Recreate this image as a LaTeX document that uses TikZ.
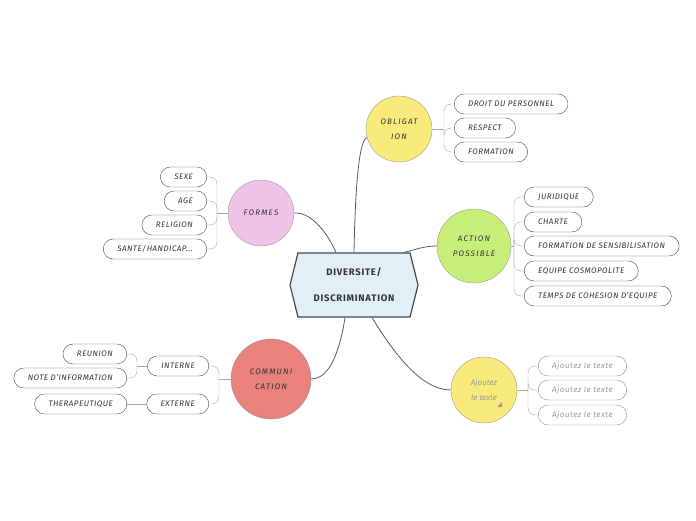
\documentclass[tikz,border=0pt]{standalone}
\usepackage{fontspec}
\setmainfont{Fira Sans}
\usetikzlibrary{positioning, shapes.symbols, calc}

\definecolor{hexfill}{HTML}{E3EFF6}
\definecolor{hexline}{HTML}{3F4B50}
\definecolor{yellowc}{HTML}{F8EB7B}
\definecolor{greenc}{HTML}{C8EE7A}
\definecolor{pinkc}{HTML}{EFC3E6}
\definecolor{salmonc}{HTML}{E9827A}
\definecolor{inkc}{HTML}{333333}

\begin{document}
\begin{tikzpicture}[x=1pt,y=1pt,
    every node/.style={text=inkc}]
  \tikzstyle{topic}=[circle,draw=gray!80,fill=yellowc,minimum size=66pt,inner sep=0pt,
      align=center,font=\fontsize{8}{15}\selectfont\itshape\addfontfeature{LetterSpace=15}]
  \tikzstyle{leaf}=[draw=hexline,fill=white,rounded corners=10pt,minimum height=20pt,
      inner xsep=14pt,inner ysep=0pt,font=\fontsize{8}{9}\selectfont\itshape\addfontfeature{LetterSpace=6}]
  \tikzstyle{hint}=[leaf,draw=gray!90,text=gray!80]
  \tikzstyle{mainlink}=[draw=hexline!90,thick]
  \tikzstyle{sublink}=[draw=gray!70,rounded corners=7pt]

  \useasboundingbox (0,0) rectangle (696,520);

  % centre
  \node[signal,signal to=west and east,signal pointer angle=152,draw=hexline,very thick,
      fill=hexfill,minimum width=128pt,minimum height=64pt,inner sep=0pt,align=center,
      font=\fontsize{9.5}{26}\selectfont\bfseries\addfontfeature{LetterSpace=8}] (div) at (354,235) {DIVERSITE/\\DISCRIMINATION};

  % main topics
  \node[topic]                          (obl)    at (399,391) {OBLIGAT\\ION};
  \node[topic,fill=greenc,minimum size=74pt] (act) at (474,274) {ACTION\\POSSIBLE};
  \node[topic,text=gray!80,font=\fontsize{8}{15}\selectfont\itshape] (ajo) at (484,130) {Ajoutez\\le texte};
  \node[topic,fill=pinkc]               (formes) at (261,307) {FORMES};
  \node[topic,fill=salmonc,minimum size=80pt] (comm) at (271,141) {COMMUNI\\CATION};
  \fill[gray!80] (502,118) -- (502,113) -- (497,113) -- cycle;

  \path[mainlink] (div.north) .. controls (355,320) and (358,380) .. (obl.195);
  \path[mainlink] ([xshift=-18pt]div.north) .. controls (326,290) and (310,308) .. (formes.east);
  \path[mainlink] ([xshift=50pt]div.north) .. controls (414,270) and (424,274) .. (act.west);
  \path[mainlink] ([xshift=18pt]div.south) .. controls (392,170) and (420,130) .. (ajo.west);
  \path[mainlink] ([xshift=-9pt]div.south) .. controls (340,170) and (330,141) .. (comm.east);

  % OBLIGATION
  \node[leaf,anchor=west] (droit)   at (454,416) {DROIT DU PERSONNEL};
  \node[leaf,anchor=west] (respect) at (454,392) {RESPECT};
  \node[leaf,anchor=west] (formt)   at (454,368) {FORMATION};
  \coordinate (oblhub) at (444,391);
  \draw[sublink] (obl.east) -- (oblhub);
  \foreach \leafname in {droit,respect,formt}
    \draw[sublink] (oblhub) |- (\leafname.west);

  % ACTION POSSIBLE
  \node[leaf,anchor=west] (jurid)  at (524,323) {JURIDIQUE};
  \node[leaf,anchor=west] (charte) at (524,298) {CHARTE};
  \node[leaf,anchor=west] (sensib) at (524,274) {FORMATION DE SENSIBILISATION};
  \node[leaf,anchor=west] (cosmo)  at (524,249) {EQUIPE COSMOPOLITE};
  \node[leaf,anchor=west] (cohes)  at (524,224) {TEMPS DE COHESION D'EQUIPE};
  \coordinate (acthub) at (514,274);
  \draw[sublink] (act.east) -- (acthub);
  \foreach \leafname in {jurid,charte,sensib,cosmo,cohes}
    \draw[sublink] (acthub) |- (\leafname.west);

  % Ajoutez le texte
  \node[hint,anchor=west] (ajoa) at (538,154) {Ajoutez le texte};
  \node[hint,anchor=west] (ajob) at (538,130) {Ajoutez le texte};
  \node[hint,anchor=west] (ajoc) at (538,105) {Ajoutez le texte};
  \coordinate (ajohub) at (528,130);
  \draw[sublink] (ajo.east) -- (ajohub);
  \foreach \leafname in {ajoa,ajob,ajoc}
    \draw[sublink] (ajohub) |- (\leafname.west);

  % FORMES
  \node[leaf,anchor=east] (sexe)     at (207,343) {SEXE};
  \node[leaf,anchor=east] (age)      at (207,319) {AGE};
  \node[leaf,anchor=east] (religion) at (207,295) {RELIGION};
  \node[leaf,anchor=east] (sante)    at (207,271) {SANTE/HANDICAP...};
  \coordinate (formhub) at (217,307);
  \draw[sublink] (formes.west) -- (formhub);
  \foreach \leafname in {sexe,age,religion,sante}
    \draw[sublink] (formhub) |- (\leafname.east);

  % COMMUNICATION
  \node[leaf,anchor=east] (interne) at (209,154) {INTERNE};
  \node[leaf,anchor=east] (externe) at (209,116) {EXTERNE};
  \coordinate (commhub) at (219,141);
  \draw[sublink] (comm.west) -- (commhub);
  \foreach \leafname in {interne,externe}
    \draw[sublink] (commhub) |- (\leafname.east);

  \node[leaf,anchor=east] (reunion) at (127,166) {REUNION};
  \node[leaf,anchor=east] (noteinf) at (127,142) {NOTE D'INFORMATION};
  \node[leaf,anchor=east] (therap)  at (127,116) {THERAPEUTIQUE};
  \coordinate (inthub) at (137,154);
  \draw[sublink] (interne.west) -- (inthub);
  \foreach \leafname in {reunion,noteinf}
    \draw[sublink] (inthub) |- (\leafname.east);
  \draw[sublink] (externe.west) -- (therap.east);
\end{tikzpicture}
\end{document}
